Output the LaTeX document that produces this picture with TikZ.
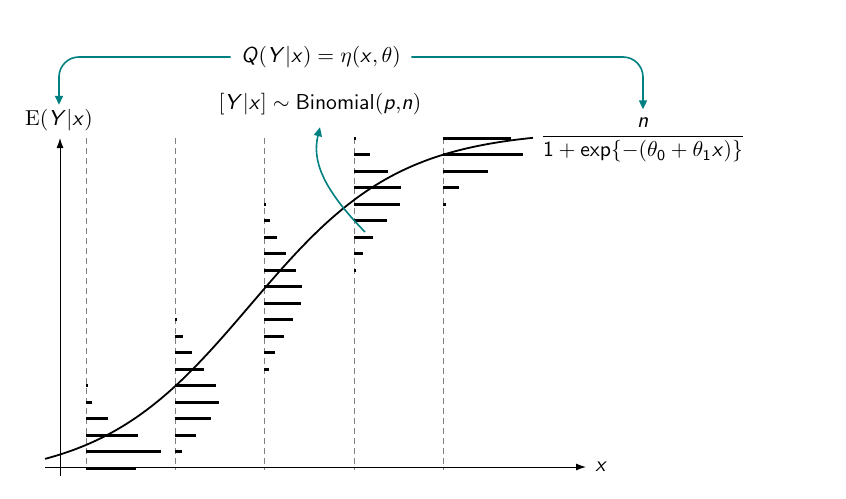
\documentclass[tikz,border=0pt]{standalone}
\usepackage{fix-cm}
\usetikzlibrary{arrows.meta}
\DeclareMathAlphabet{\mathsfit}{OT1}{cmss}{m}{sl}
\DeclareMathAlphabet{\mathsfup}{OT1}{cmss}{m}{n}
\newcommand{\sY}{\mathsfit{Y}}
\newcommand{\sx}{\mathsfit{x}}
\definecolor{tealarrow}{RGB}{0,128,128}
\begin{document}
\begin{tikzpicture}[x=0.5pt,y=-0.5pt,
  lbl/.style={inner sep=3pt, font=\fontsize{10.8}{13}\selectfont},
  axis/.style={line width=0.5pt, -{Latex[length=5pt,width=3.5pt]}},
  guide/.style={gray, line width=0.4pt, dash pattern=on 3pt off 2pt},
  bar/.style={line width=1.5pt},
  curve/.style={line width=0.9pt},
  callout/.style={tealarrow, line width=0.8pt, -{Triangle[length=4.5pt,width=4pt]}}]
\useasboundingbox (0,0) rectangle (846,498);
% guides
\foreach \gx in {86,175,264,354,443}
  \draw[guide] (\gx,138) -- (\gx,470);
% bars
\foreach \k/\len in {15/1.5,16/6,17/22,18/52,19/75,20/50}
  \draw[bar] (86,138+16.5*\k) -- ++(\len,0);
\foreach \k/\len in {11/1.5,12/8,13/17,14/29,15/41,16/44,17/36,18/21,19/7}
  \draw[bar] (175,138+16.5*\k) -- ++(\len,0);
\foreach \k/\len in {4/1.5,5/6,6/13,7/22,8/32,9/38,10/37,11/29,12/20,13/11,14/5}
  \draw[bar] (264,138+16.5*\k) -- ++(\len,0);
\foreach \k/\len in {0/1.5,1/16,2/34,3/47,4/46,5/33,6/19,7/9,8/1.5}
  \draw[bar] (354,138+16.5*\k) -- ++(\len,0);
\foreach \k/\len in {0/68,1/80,2/45,3/16,4/3}
  \draw[bar] (443,138+16.5*\k) -- ++(\len,0);
% axes
\coordinate (xs) at (45,467);
\coordinate (xe) at (586,467);
\coordinate (ys) at (60,476);
\coordinate (ye) at (60,138);
\draw[axis] (xs) -- (xe);
\draw[axis] (ys) -- (ye);
\node[lbl, anchor=west] (xl) at (589,467) {$\sx$};
\node[lbl] (E) at (59,120) {$\mathrm{E}(\sY|\sx)$};
% curve
\draw[curve] plot[domain=45:533, samples=120, smooth] (\x, {480-350/(1+exp(-(0.183+0.01337*(\x-264))))});
% labels
\node[lbl, inner xsep=5pt] (Q) at (321,57) {$\mathsfit{Q}(\sY|\sx) = \eta(\sx,\theta)$};
\node[lbl] (B) at (320,104) {$[\sY|\sx] \sim \mathsfup{Binomial}(\mathsfit{p}{,}\mathsfit{n})$};
\node[lbl] (F) at (643,140) {$\displaystyle\frac{\mathsfit{n}}{\mathsfup{1} + \mathsfup{exp}\{-(\theta_{\mathsfup{0}} + \theta_{\mathsfup{1}}\sx)\}}$};
% callouts
\draw[callout, rounded corners=10pt] (Q.west) -| ([yshift=-1pt]E.north);
\draw[callout, rounded corners=10pt] (Q.east) -| ([yshift=1pt]F.north);
\coordinate (bs) at (365,232);
\draw[callout] (bs) .. controls (322,188) and (312,160) .. ([yshift=-3pt]B.south);
\end{tikzpicture}
\end{document}
